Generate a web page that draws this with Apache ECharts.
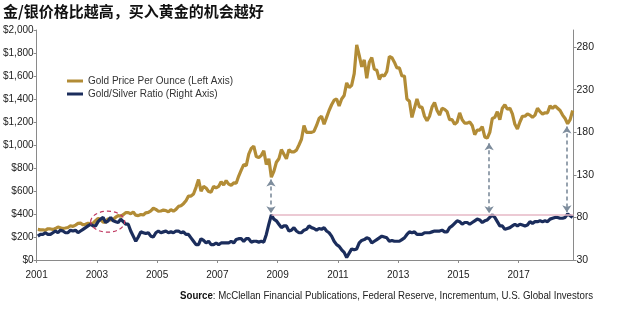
<!DOCTYPE html>
<html><head><meta charset="utf-8">
<script src="https://cdn.jsdelivr.net/npm/echarts@6/dist/echarts.min.js"></script>
<style>html,body{margin:0;padding:0;background:#fff}#c{width:643px;height:323px}</style>
</head><body><div id="c"></div>
<script>
// ---- data (monthly, starting Jan 2001) ----
const startYear = 2001;
const goldPrice = [
 266,262,263,258,272,270,266,273,287,280,274,278,
 283,298,292,304,318,320,306,311,320,316,320,342,
 362,352,330,330,360,348,352,372,386,380,394,412,
 412,402,418,390,386,396,392,410,414,428,450,440,
 424,426,434,430,418,438,424,440,466,472,490,516,
 556,556,574,632,700,598,640,626,596,590,640,628,
 640,680,652,690,660,650,670,668,730,782,830,820,
 920,970,990,900,890,910,950,830,880,720,770,850,
 880,960,920,880,960,940,940,955,1000,1050,1170,1110,
 1110,1110,1120,1170,1230,1250,1180,1240,1300,1350,1390,1400,
 1340,1400,1430,1540,1500,1520,1620,1870,1780,1680,1740,1580,
 1720,1760,1660,1650,1570,1610,1600,1640,1770,1760,1720,1670,
 1670,1600,1600,1400,1380,1240,1320,1400,1330,1330,1250,1210,
 1250,1330,1370,1300,1260,1320,1310,1290,1220,1220,1180,1200,
 1280,1220,1190,1190,1200,1170,1090,1130,1130,1160,1070,1060,
 1110,1230,1240,1290,1220,1320,1350,1310,1320,1270,1180,1140,
 1200,1250,1250,1270,1260,1240,1260,1320,1290,1270,1280,1280,
 1340,1320,1340,1320,1300,1260,1230,1185,1220,1300
];
const goldSilverRatio = [
 58,60,60,62,60,60,62,64,62,65,64,62,
 62,65,64,65,62,64,66,68,70,72,70,70,
 75,78,80,74,76,80,76,75,74,78,75,72,
 72,64,58,52,57,63,62,61,62,58,57,62,
 64,62,63,64,62,63,62,64,64,62,63,60,
 60,56,52,48,48,55,53,50,52,48,48,50,
 48,50,50,50,50,52,50,54,55,55,52,55,
 55,51,52,52,51,52,51,60,72,83,78,76,
 72,68,70,70,64,65,68,64,62,62,65,66,
 70,68,67,65,67,66,68,64,62,58,52,48,
 46,42,39,33,38,43,42,43,50,53,54,56,
 55,50,52,54,56,58,57,56,52,53,52,52,
 52,54,56,60,63,62,63,60,60,60,62,62,
 62,63,64,64,64,65,63,63,68,70,73,76,
 75,72,74,74,72,74,76,78,77,74,76,77,
 80,83,80,75,70,70,66,67,68,70,72,70,
 72,71,70,71,75,73,75,75,76,75,76,75,
 78,79,80,80,79,79,80,84,82,80
];
const xTickYears = [2001,2003,2005,2007,2009,2011,2013,2015,2017];
const leftTicks = [0,200,400,600,800,1000,1200,1400,1600,1800,2000];
const rightTicks = [30,80,130,180,230,280];
// annotations
const arrowYears = [2008.78, 2016.02, 2018.6];
const arrowGold  = [700, 1015, 1160];
const arrowRatio = [85, 85, 86];
const refLevel = 83.5, refStart = 2008.8;
const circleYear = 2003.36, circleRatio = 75;

const titleText = '金/银价格比越高，买入黄金的机会越好';
const sourceText = 'McClellan Financial Publications, Federal Reserve, Incrementum, U.S. Global Investors';
const goldName = 'Gold Price Per Ounce (Left Axis)';
const ratioName = 'Gold/Silver Ratio (Right Axis)';

// ---- build ----
const LMIN=0, LMAX=2000, RMIN=30, RMAX=300, XMIN=2001, XMAX=2018.82;
const xOf = i => startYear + (i + 0.5) / 12;
const goldData = goldPrice.map((v,i)=>[xOf(i), v]);
const ratioData = goldSilverRatio.map((v,i)=>[xOf(i), v]);
const goldToRight = g => RMIN + (g - LMIN) / (LMAX - LMIN) * (RMAX - RMIN);

const FONT = '"Liberation Sans", Arial, sans-serif';
const axisLineStyle = {color:'#8a8a8a', width:1};

const markLines = [];
arrowYears.forEach((x,i)=>{
  markLines.push([{coord:[x, goldToRight(arrowGold[i])], lineStyle:{color:'#7d8c9c', type:[4,3], width:1.6}, symbol:'arrow'},
                  {coord:[x, arrowRatio[i]], symbol:'arrow'}]);
});
markLines.push([{coord:[refStart, refLevel], lineStyle:{color:'#e6b8c6', type:'solid', width:1.6}, symbol:'none'},
                {coord:[XMAX, refLevel], symbol:'none'}]);

const chart = echarts.init(document.getElementById('c'), null, {renderer:'canvas'});
chart.setOption({
  animation:false,
  title:{text:titleText, left:3, top:4, padding:0, textStyle:{fontFamily:'"Noto Sans CJK SC", sans-serif', fontSize:15, fontWeight:'bold', color:'#111'}},
  legend:{orient:'vertical', left:67, top:76, itemWidth:16, itemHeight:3, itemGap:3, icon:'rect', padding:0,
    textStyle:{fontFamily:FONT, fontSize:10, color:'#333'},
    data:[goldName, ratioName]},
  grid:{left:33.5, right:69.5, top:30, bottom:63, containLabel:false},
  xAxis:{type:'value', min:XMIN, max:XMAX, splitLine:{show:false},
    axisLine:{lineStyle:axisLineStyle}, axisTick:{customValues:xTickYears, length:3, lineStyle:axisLineStyle},
    axisLabel:{customValues:xTickYears, color:'#222', fontFamily:FONT, fontSize:10, margin:10, formatter:v=>String(v)}},
  yAxis:[
    {type:'value', min:LMIN, max:LMAX, position:'left', splitLine:{show:false},
     axisLine:{show:true, lineStyle:axisLineStyle}, axisTick:{show:true, customValues:leftTicks, length:3, lineStyle:axisLineStyle},
     axisLabel:{customValues:leftTicks, color:'#222', fontFamily:FONT, fontSize:10, margin:3,
       formatter:v=>'$'+Number(v).toLocaleString('en-US')}},
    {type:'value', min:RMIN, max:RMAX, position:'right', splitLine:{show:false},
     axisLine:{show:true, lineStyle:axisLineStyle}, axisTick:{show:true, customValues:rightTicks, length:3, lineStyle:axisLineStyle},
     axisLabel:{customValues:rightTicks, color:'#222', fontFamily:FONT, fontSize:10.5, margin:3}}
  ],
  series:[
    {name:goldName, type:'line', data:goldData, yAxisIndex:0, symbol:'none', lineStyle:{color:'#b28c36', width:3.2}, itemStyle:{color:'#b28c36'}},
    {name:ratioName, type:'line', data:ratioData, yAxisIndex:1, symbol:'none', lineStyle:{color:'#1b2d5c', width:3.2}, itemStyle:{color:'#1b2d5c'},
     markLine:{silent:true, symbolSize:7, label:{show:false}, data:markLines}}
  ]
});

// measure source text to fit the reference's condensed width
const ctx = document.createElement('canvas').getContext('2d');
ctx.font = 'bold 11px ' + FONT;
let w = ctx.measureText('Source').width;
ctx.font = '11px ' + FONT;
w += ctx.measureText(': ' + sourceText).width;
const sx = 413 / w;

const cy = chart.convertToPixel({yAxisIndex:1}, circleRatio);
const cx = chart.convertToPixel({xAxisIndex:0}, circleYear);
chart.setOption({graphic:[
  {type:'ellipse', shape:{cx:cx, cy:cy, rx:17, ry:10.5}, style:{fill:null, stroke:'#c03a62', lineWidth:1.2, lineDash:[4,3]}, z:10},
  {type:'text', x:180, y:296, scaleX:sx, style:{text:'{b|Source}: '+sourceText, fontFamily:FONT, fontSize:11, fill:'#222', verticalAlign:'middle',
    rich:{b:{fontFamily:FONT, fontSize:11, fontWeight:'bold', fill:'#111'}}}}
]});
</script></body></html>
